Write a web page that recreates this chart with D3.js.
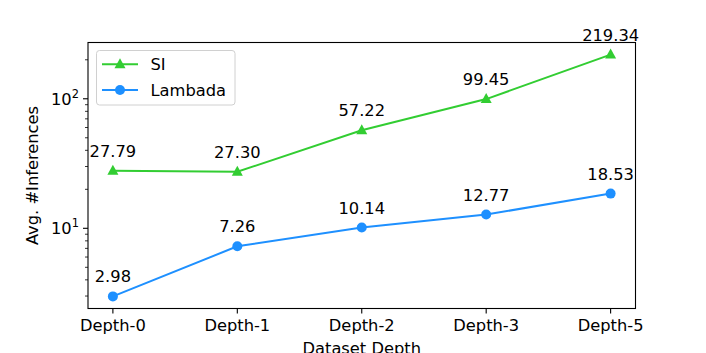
<!DOCTYPE html>
<html>
<head>
<meta charset="utf-8">
<script src="https://cdn.jsdelivr.net/npm/d3@7"></script>
<style>
body { margin: 0; background: #fff; }
text { font-family: 'DejaVu Sans', sans-serif; }
</style>
</head>
<body>
<script>
// data
var depths = ['Depth-0', 'Depth-1', 'Depth-2', 'Depth-3', 'Depth-5'];
var siValues = [27.79, 27.30, 57.22, 99.45, 219.34];
var lambadaValues = [2.98, 7.26, 10.14, 12.77, 18.53];
var seriesNames = ['SI', 'Lambada'];
var yMajorTicks = [10, 100];

var w = 706, h = 353;
var pL = 88, pR = 635.5, pT = 42.5, pB = 308.5;
var fs = 16.3;

var svg = d3.select('body').append('svg')
	.attr('width', w)
	.attr('height', h);

// matplotlib style margins: 5% of data span on each side
var span = (pR - pL) / (depths.length - 1 + 0.4);
var x = d3.scalePoint()
	.domain(depths)
	.range([pL + 0.2 * span, pR - 0.2 * span])
	.padding(0);

var allVals = siValues.concat(lambadaValues);
var lo = Math.log10(d3.min(allVals)), hi = Math.log10(d3.max(allVals));
var m = (hi - lo) * 0.05;
var y = d3.scaleLog()
	.domain([Math.pow(10, lo - m), Math.pow(10, hi + m)])
	.range([pB, pT]);

// minor ticks
var minor = [];
[1, 10, 100].forEach(function(dec) {
	for (var k = 2; k <= 9; k++) {
		var v = dec * k;
		if (v >= y.domain()[0] && v <= y.domain()[1]) minor.push(v);
	}
});
svg.selectAll('.minor')
	.data(minor)
	.enter()
	.append('line')
	.attr('x1', pL - 3)
	.attr('x2', pL)
	.attr('y1', function(d) { return y(d); })
	.attr('y2', function(d) { return y(d); })
	.attr('stroke', '#000')
	.attr('stroke-width', 0.8);

// major y ticks
var yt = svg.selectAll('.ymaj')
	.data(yMajorTicks)
	.enter()
	.append('g');
yt.append('line')
	.attr('x1', pL - 5)
	.attr('x2', pL)
	.attr('y1', function(d) { return y(d); })
	.attr('y2', function(d) { return y(d); })
	.attr('stroke', '#000')
	.attr('stroke-width', 1.1);
var ytext = yt.append('text')
	.attr('x', pL - 9)
	.attr('y', function(d) { return y(d) + 6; })
	.attr('text-anchor', 'end')
	.attr('font-size', fs + 'px');
ytext.append('tspan').text('10');
ytext.append('tspan')
	.attr('font-size', (fs * 0.7) + 'px')
	.attr('dy', -7)
	.text(function(d) { return Math.round(Math.log10(d)); });

// x ticks
svg.selectAll('.xt')
	.data(depths)
	.enter()
	.append('line')
	.attr('x1', function(d) { return x(d); })
	.attr('x2', function(d) { return x(d); })
	.attr('y1', pB)
	.attr('y2', pB + 5)
	.attr('stroke', '#000')
	.attr('stroke-width', 1.1);
svg.selectAll('.xl')
	.data(depths)
	.enter()
	.append('text')
	.attr('x', function(d) { return x(d); })
	.attr('y', 331)
	.attr('text-anchor', 'middle')
	.attr('font-size', fs + 'px')
	.text(function(d) { return d; });

// axis labels
svg.append('text')
	.attr('x', (pL + pR) / 2)
	.attr('y', 354)
	.attr('text-anchor', 'middle')
	.attr('font-size', fs + 'px')
	.text('Dataset Depth');
svg.append('text')
	.attr('transform', 'translate(38,' + ((pT + pB) / 2) + ') rotate(-90)')
	.attr('text-anchor', 'middle')
	.attr('font-size', fs + 'px')
	.text('Avg. #Inferences');

// series
var series = [
	{ name: seriesNames[0], values: siValues, color: '#32cd32', marker: 'tri' },
	{ name: seriesNames[1], values: lambadaValues, color: '#1e90ff', marker: 'circ' }
];
var line = d3.line()
	.x(function(d, i) { return x(depths[i]); })
	.y(function(d) { return y(d); });

function drawMarker(g, type, color) {
	if (type === 'tri') {
		g.append('path')
			.attr('d', 'M0,-6L5.5,4L-5.5,4Z')
			.attr('fill', color);
	} else {
		g.append('circle')
			.attr('r', 5)
			.attr('fill', color);
	}
}

series.forEach(function(s) {
	svg.append('path')
		.attr('d', line(s.values))
		.attr('fill', 'none')
		.attr('stroke', s.color)
		.attr('stroke-width', 2);
	s.values.forEach(function(v, i) {
		var g = svg.append('g')
			.attr('transform', 'translate(' + x(depths[i]) + ',' + y(v) + ')');
		drawMarker(g, s.marker, s.color);
		svg.append('text')
			.attr('x', x(depths[i]))
			.attr('y', y(v) - 14)
			.attr('text-anchor', 'middle')
			.attr('font-size', fs + 'px')
			.text(v.toFixed(2));
	});
});

// frame
svg.append('rect')
	.attr('x', pL)
	.attr('y', pT)
	.attr('width', pR - pL)
	.attr('height', pB - pT)
	.attr('fill', 'none')
	.attr('stroke', '#000')
	.attr('stroke-width', 1.1);

// legend
var lg = svg.append('g');
lg.append('rect')
	.attr('x', 96.5)
	.attr('y', 50.5)
	.attr('width', 138.5)
	.attr('height', 54.5)
	.attr('rx', 3)
	.attr('fill', '#fff')
	.attr('fill-opacity', 0.8)
	.attr('stroke', '#d0d0d0')
	.attr('stroke-width', 1);
series.forEach(function(s, i) {
	var ly = 64.3 + i * 25.7;
	lg.append('line')
		.attr('x1', 102)
		.attr('x2', 138)
		.attr('y1', ly)
		.attr('y2', ly)
		.attr('stroke', s.color)
		.attr('stroke-width', 2);
	var g = lg.append('g').attr('transform', 'translate(120,' + ly + ')');
	drawMarker(g, s.marker, s.color);
	lg.append('text')
		.attr('x', 150.5)
		.attr('y', ly + 6)
		.attr('font-size', fs + 'px')
		.text(s.name);
});
</script>
</body>
</html>
